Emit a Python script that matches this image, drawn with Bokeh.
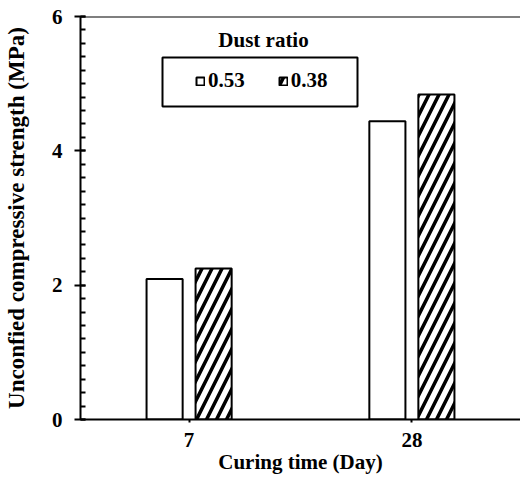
from bokeh.plotting import figure
from bokeh.models import (FactorRange, Legend, LegendItem, Span, BoxAnnotation,
                          Label, ColumnDataSource, FixedTicker)
from bokeh.transform import dodge
from bokeh.embed import file_html
from bokeh.resources import INLINE

days = ["7", "28"]
ratio_053 = [2.09, 4.44]
ratio_038 = [2.25, 4.84]
legend_labels = ["0.53", "0.38"]
legend_title = "Dust ratio"
x_title = "Curing time (Day)"
y_title = "Unconfied compressive strength (MPa)"
y_ticks = [0, 2, 4, 6]

FONT = "Liberation Serif"

src = ColumnDataSource(data=dict(days=days, r053=ratio_053, r038=ratio_038))

p = figure(width=520, height=476, output_backend="svg", toolbar_location=None,
           x_range=FactorRange(*days, range_padding=-0.0125), y_range=(0, 6),
           min_border_left=80, min_border_right=0, min_border_top=16,
           min_border_bottom=57)
p.outline_line_color = None
p.xgrid.grid_line_color = None
p.ygrid.grid_line_color = None
p.background_fill_color = "white"
p.border_fill_color = "white"

b1 = p.vbar(x=dodge("days", -0.11, range=p.x_range), top="r053", width=0.162,
            source=src, fill_color="white", line_color="black", line_width=2)
b2 = p.vbar(x=dodge("days", 0.11, range=p.x_range), top="r038", width=0.162,
            source=src, fill_color="white", line_color="black", line_width=2,
            hatch_pattern="/", hatch_color="black", hatch_weight=3.5, hatch_scale=20)

# top border line
p.add_layout(Span(location=6, dimension="width", line_color="black", line_width=2))

# axes
for ax in (p.xaxis[0], p.yaxis[0]):
    ax.axis_line_width = 2
    ax.axis_line_color = "black"
    ax.major_tick_line_width = 2
    ax.major_tick_line_color = "black"
    ax.major_label_text_font = FONT
    ax.major_label_text_font_style = "bold"
    ax.major_label_text_font_size = "21px"
    ax.major_label_text_color = "black"
    ax.axis_label_text_font = FONT
    ax.axis_label_text_font_style = "bold"
    ax.axis_label_text_color = "black"

p.xaxis.axis_label = x_title
p.xaxis.axis_label_text_font_size = "21px"
p.xaxis.major_tick_in = 0
p.xaxis.major_tick_out = 3
p.xaxis.major_label_standoff = 10
p.xaxis.axis_label_standoff = 0

p.yaxis.axis_label = y_title
p.yaxis.axis_label_text_font_size = "23px"
p.yaxis.ticker = FixedTicker(ticks=y_ticks,
                             minor_ticks=[i * 0.2 for i in range(31)])
p.yaxis.major_tick_in = 5
p.yaxis.major_tick_out = 6
p.yaxis.minor_tick_in = 5
p.yaxis.minor_tick_out = 0
p.yaxis.minor_tick_line_width = 2
p.yaxis.minor_tick_line_color = "black"
p.yaxis.major_label_standoff = 12
p.yaxis.axis_label_standoff = 20

# legend
box = BoxAnnotation(left=82, right=277, bottom=313, top=362,
                    left_units="screen", right_units="screen",
                    bottom_units="screen", top_units="screen",
                    fill_alpha=0, line_color="black", line_width=2,
                    line_alpha=1)
p.add_layout(box)

legend = Legend(items=[LegendItem(label=legend_labels[0], renderers=[b1]),
                       LegendItem(label=legend_labels[1], renderers=[b2])],
                orientation="horizontal", location=(115, 326),
                padding=0, margin=0, spacing=33, label_standoff=3,
                glyph_width=10, glyph_height=10,
                border_line_alpha=0, background_fill_alpha=0,
                label_text_font=FONT, label_text_font_style="bold",
                label_text_font_size="21px", label_text_color="black")
p.add_layout(legend)

p.add_layout(Label(x=183, y=380, x_units="screen", y_units="screen",
                   text=legend_title, text_align="center", text_baseline="middle",
                   text_font=FONT, text_font_style="bold", text_font_size="21px",
                   text_color="black"))

open("out.html", "w").write(file_html(p, INLINE))
